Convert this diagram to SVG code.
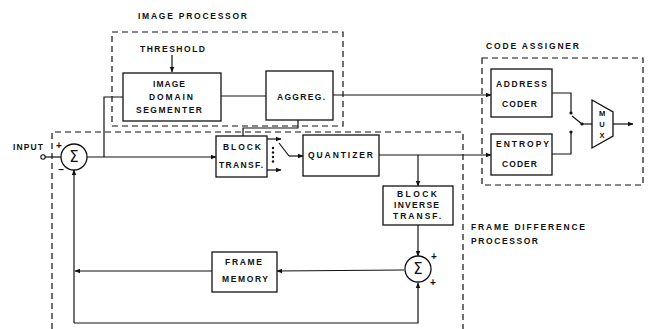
<svg xmlns="http://www.w3.org/2000/svg" width="650" height="329" viewBox="0 0 650 329">
<defs>
<marker id="ar" viewBox="0 0 10 10" refX="9" refY="5" markerWidth="6" markerHeight="6" orient="auto" markerUnits="userSpaceOnUse">
<path d="M0,1 L10,5 L0,9 z" fill="#111"/>
</marker>
</defs>
<style>
.box{fill:#fff;stroke:#111;stroke-width:1.3}
.dash{fill:none;stroke:#111;stroke-width:1.2;stroke-dasharray:6,4}
.ln{fill:none;stroke:#111;stroke-width:1.2}
.t{font-family:"Liberation Sans",Arial,sans-serif;font-size:8.5px;font-weight:bold;fill:#111}
.s{font-family:"DejaVu Sans",sans-serif;font-size:15px;fill:#111;text-anchor:middle}
.sg{font-family:"Liberation Sans",Arial,sans-serif;font-size:10px;font-weight:bold;fill:#111;text-anchor:middle}
</style>
<rect width="650" height="329" fill="#fff"/>

<g id="groups">
<rect class="dash" x="112" y="32" width="231" height="94"/>
<path class="dash" d="M52,329 V132 H463 V329"/>
<rect class="dash" x="482" y="58" width="161" height="127"/>
<text class="t" x="138" y="19" textLength="109" lengthAdjust="spacing">IMAGE  PROCESSOR</text>
<text class="t" x="486" y="49" textLength="93" lengthAdjust="spacing">CODE  ASSIGNER</text>
<text class="t" x="471" y="230" textLength="114" lengthAdjust="spacing">FRAME  DIFFERENCE</text>
<text class="t" x="471" y="244" textLength="67" lengthAdjust="spacing">PROCESSOR</text>
</g>

<g id="connectors">
<line class="ln" x1="172" y1="55" x2="172" y2="72" marker-end="url(#ar)"/>
<line class="ln" x1="221" y1="96" x2="266" y2="96"/>
<line class="ln" x1="333" y1="95" x2="491" y2="95" marker-end="url(#ar)"/>
<circle cx="43" cy="157" r="2.2" fill="#fff" stroke="#111" stroke-width="1.1"/>
<line class="ln" x1="45" y1="157" x2="61" y2="157"/>
<line class="ln" x1="87" y1="157" x2="216" y2="157" marker-end="url(#ar)"/>
<path class="ln" d="M104,157 V97 H123"/>
<path class="ln" d="M298,120 V128 H243 V136"/>
<line class="ln" x1="267" y1="139" x2="281" y2="139" marker-end="url(#ar)"/>
<line class="ln" x1="267" y1="170" x2="281" y2="170" marker-end="url(#ar)"/>
<circle cx="273" cy="148" r="1.2" fill="#111"/>
<circle cx="273" cy="152.5" r="1.2" fill="#111"/>
<circle cx="273" cy="157" r="1.2" fill="#111"/>
<circle cx="273" cy="161.5" r="1.2" fill="#111"/>
<line class="ln" x1="279" y1="143" x2="289" y2="156"/>
<line class="ln" x1="289" y1="156" x2="303" y2="156" marker-end="url(#ar)"/>
<line class="ln" x1="379" y1="155" x2="491" y2="155" marker-end="url(#ar)"/>
<line class="ln" x1="418" y1="155" x2="418" y2="186" marker-end="url(#ar)"/>
<line class="ln" x1="418" y1="225" x2="418" y2="256" marker-end="url(#ar)"/>
<line class="ln" x1="404" y1="270" x2="277" y2="271" marker-end="url(#ar)"/>
<line class="ln" x1="212" y1="271" x2="75" y2="271" marker-end="url(#ar)"/>
<line class="ln" x1="74" y1="323" x2="74" y2="170" marker-end="url(#ar)"/>
<path class="ln" d="M74,323 H418 V283" marker-end="url(#ar)"/>
<path class="ln" d="M552,93 H571 V113"/>
<path class="ln" d="M552,154 H571 V132"/>
<circle cx="571" cy="113" r="1.6" fill="#111"/>
<circle cx="571" cy="132" r="1.6" fill="#111"/>
<line class="ln" x1="572" y1="116" x2="582" y2="124"/>
<circle cx="582" cy="124" r="1.6" fill="#111"/>
<line class="ln" x1="582" y1="124" x2="592" y2="124"/>
<line class="ln" x1="613" y1="124" x2="633" y2="124" marker-end="url(#ar)"/>
</g>

<g id="threshold"><text class="t" x="140" y="52" textLength="65" lengthAdjust="spacing">THRESHOLD</text></g>

<g id="segmenter">
<rect class="box" x="123" y="73" width="98" height="48"/>
<text class="t" x="153" y="87" textLength="32" lengthAdjust="spacing">IMAGE</text>
<text class="t" x="149" y="100" textLength="44" lengthAdjust="spacing">DOMAIN</text>
<text class="t" x="136" y="112.5" textLength="66" lengthAdjust="spacing">SEGMENTER</text>
</g>

<g id="aggreg">
<rect class="box" x="266" y="71" width="67" height="49"/>
<text class="t" x="277" y="100" textLength="48" lengthAdjust="spacing">AGGREG.</text>
</g>

<g id="input"><text class="t" x="13" y="150" textLength="30" lengthAdjust="spacing">INPUT</text></g>

<g id="sum1">
<circle cx="74" cy="157" r="13" fill="#fff" stroke="#111" stroke-width="1.3"/>
<text class="s" x="74" y="162">Σ</text>
<text class="sg" x="59" y="149">+</text>
<text class="sg" x="61" y="173">–</text>
</g>

<g id="blocktransf">
<rect class="box" x="216" y="136" width="51" height="41"/>
<text class="t" x="223" y="150" textLength="38" lengthAdjust="spacing">BLOCK</text>
<text class="t" x="219" y="168" textLength="44" lengthAdjust="spacing">TRANSF.</text>
</g>

<g id="quantizer">
<rect class="box" x="303" y="135" width="76" height="41"/>
<text class="t" x="308" y="158" textLength="65" lengthAdjust="spacing">QUANTIZER</text>
</g>

<g id="blockinverse">
<rect class="box" x="383" y="186" width="70" height="39"/>
<text class="t" x="397" y="197" textLength="40" lengthAdjust="spacing">BLOCK</text>
<text class="t" x="394" y="207.5" textLength="45" lengthAdjust="spacing">INVERSE</text>
<text class="t" x="393" y="218.5" textLength="48" lengthAdjust="spacing">TRANSF.</text>
</g>

<g id="sum2">
<circle cx="418" cy="269" r="13" fill="#fff" stroke="#111" stroke-width="1.3"/>
<text class="s" x="418" y="274">Σ</text>
<text class="sg" x="434" y="260">+</text>
<text class="sg" x="433" y="286">+</text>
</g>

<g id="framememory">
<rect class="box" x="212" y="252" width="65" height="40"/>
<text class="t" x="225" y="265" textLength="37" lengthAdjust="spacing">FRAME</text>
<text class="t" x="222" y="282" textLength="46" lengthAdjust="spacing">MEMORY</text>
</g>

<g id="addresscoder">
<rect class="box" x="491" y="69" width="61" height="48"/>
<text class="t" x="496" y="87" textLength="51" lengthAdjust="spacing">ADDRESS</text>
<text class="t" x="502" y="107" textLength="35" lengthAdjust="spacing">CODER</text>
</g>

<g id="entropycoder">
<rect class="box" x="491" y="134" width="61" height="41"/>
<text class="t" x="496" y="147" textLength="53" lengthAdjust="spacing">ENTROPY</text>
<text class="t" x="502" y="167" textLength="35" lengthAdjust="spacing">CODER</text>
</g>

<g id="mux">
<path class="box" d="M592,100 L613,112 L613,136 L592,148 Z"/>
<text class="t" x="602" y="116" text-anchor="middle" style="font-size:7.5px">M</text>
<text class="t" x="602" y="127" text-anchor="middle" style="font-size:7.5px">U</text>
<text class="t" x="602" y="138" text-anchor="middle" style="font-size:7.5px">X</text>
</g>
</svg>
